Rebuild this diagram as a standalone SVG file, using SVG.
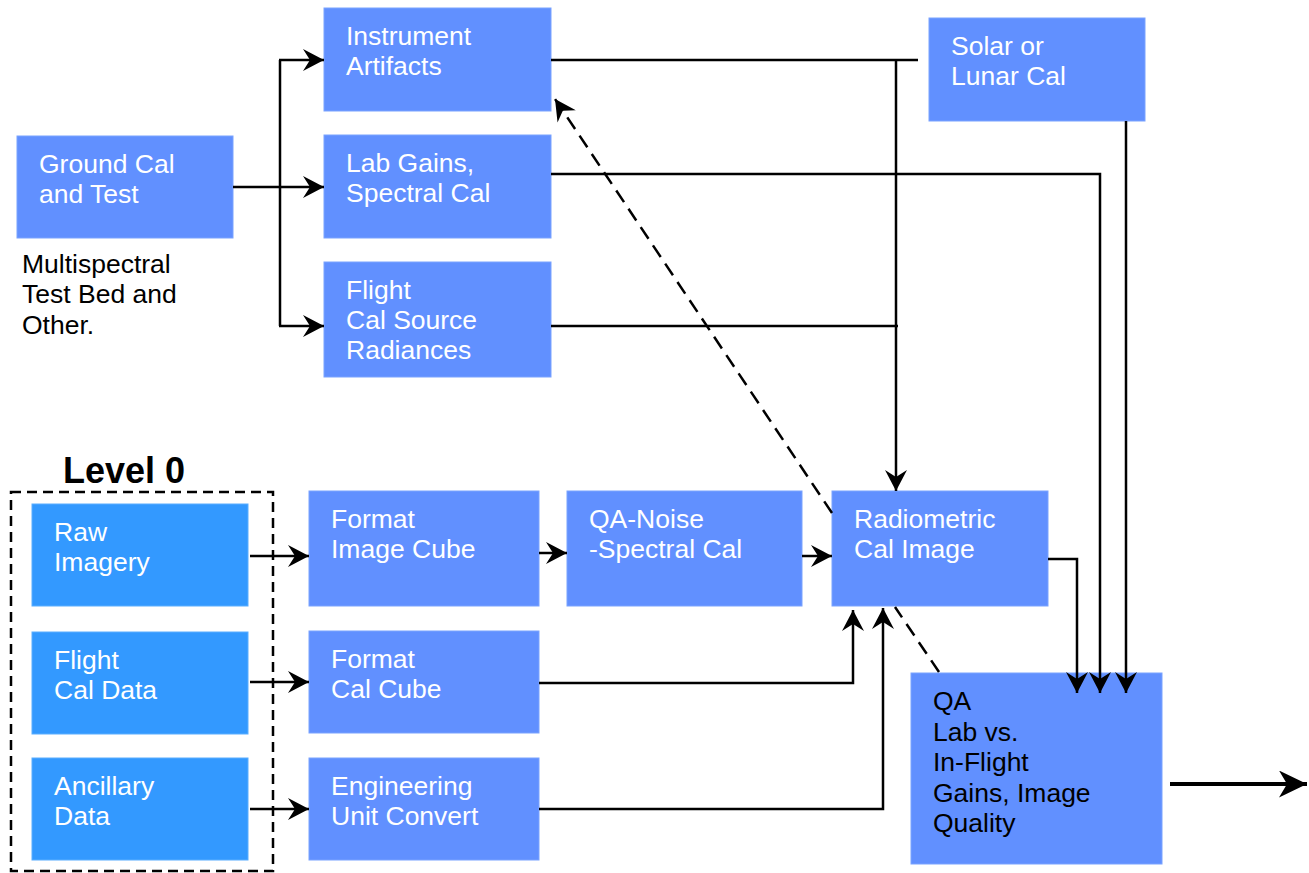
<svg xmlns="http://www.w3.org/2000/svg" width="1309" height="873" viewBox="0 0 1309 873">
<style>
.n{fill:#6190FF;stroke:#7BA3FF;stroke-width:1}
.l0{fill:#3399FF;stroke:#5AAEFF;stroke-width:1}
.t{font-family:"Liberation Sans",Arial,sans-serif;font-size:26.5px;fill:#FFFFFF}
.tb{font-family:"Liberation Sans",Arial,sans-serif;font-size:26.5px;fill:#000000}
.c{fill:none;stroke:#000;stroke-width:2.5}
</style>
<defs>
<marker id="ah" viewBox="0 0 21 22" refX="21" refY="11" markerWidth="21" markerHeight="22" markerUnits="userSpaceOnUse" orient="auto">
<path d="M0,0 L21,11 L0,22 L7,11 z" fill="#000"/>
</marker>
<marker id="ahb" viewBox="0 0 28 27" refX="28" refY="13.5" markerWidth="28" markerHeight="27" markerUnits="userSpaceOnUse" orient="auto">
<path d="M0,0 L28,13.5 L0,27 L8,13.5 z" fill="#000"/>
</marker>
</defs>
<rect width="1309" height="873" fill="#fff"/>

<g id="level0-group">
<rect x="11" y="492" width="262" height="379" fill="none" stroke="#000" stroke-width="2.5" stroke-dasharray="10,6"/>
<text x="63" y="483" font-family="Liberation Sans,Arial,sans-serif" font-size="36" font-weight="bold" fill="#000">Level 0</text>
</g>

<g id="ground-cal">
<rect class="n" x="17" y="136" width="216" height="102"/>
<text class="t" x="39" y="173">Ground Cal</text>
<text class="t" x="39" y="203">and Test</text>
</g>
<g id="multispectral-note">
<text class="tb" x="22" y="273">Multispectral</text>
<text class="tb" x="22" y="303">Test Bed and</text>
<text class="tb" x="22" y="334">Other.</text>
</g>
<g id="instrument-artifacts">
<rect class="n" x="324" y="8" width="227" height="103"/>
<text class="t" x="346" y="45">Instrument</text>
<text class="t" x="346" y="75">Artifacts</text>
</g>
<g id="lab-gains">
<rect class="n" x="324" y="135" width="227" height="103"/>
<text class="t" x="346" y="172">Lab Gains,</text>
<text class="t" x="346" y="202">Spectral Cal</text>
</g>
<g id="flight-cal-source">
<rect class="n" x="324" y="262" width="227" height="115"/>
<text class="t" x="346" y="299">Flight</text>
<text class="t" x="346" y="329">Cal Source</text>
<text class="t" x="346" y="359">Radiances</text>
</g>
<g id="solar-lunar">
<rect class="n" x="929" y="18" width="216" height="103"/>
<text class="t" x="951" y="55">Solar or</text>
<text class="t" x="951" y="85">Lunar Cal</text>
</g>
<g id="raw-imagery">
<rect class="l0" x="32" y="504" width="216" height="102"/>
<text class="t" x="54" y="541">Raw</text>
<text class="t" x="54" y="571">Imagery</text>
</g>
<g id="flight-cal-data">
<rect class="l0" x="32" y="632" width="216" height="102"/>
<text class="t" x="54" y="669">Flight</text>
<text class="t" x="54" y="699">Cal Data</text>
</g>
<g id="ancillary-data">
<rect class="l0" x="32" y="758" width="216" height="102"/>
<text class="t" x="54" y="795">Ancillary</text>
<text class="t" x="54" y="825">Data</text>
</g>
<g id="format-image-cube">
<rect class="n" x="309" y="491" width="230" height="115"/>
<text class="t" x="331" y="528">Format</text>
<text class="t" x="331" y="558">Image Cube</text>
</g>
<g id="qa-noise">
<rect class="n" x="567" y="491" width="235" height="115"/>
<text class="t" x="589" y="528">QA-Noise</text>
<text class="t" x="589" y="558">-Spectral Cal</text>
</g>
<g id="radiometric-cal">
<rect class="n" x="832" y="491" width="216" height="115"/>
<text class="t" x="854" y="528">Radiometric</text>
<text class="t" x="854" y="558">Cal Image</text>
</g>
<g id="format-cal-cube">
<rect class="n" x="309" y="631" width="230" height="102"/>
<text class="t" x="331" y="668">Format</text>
<text class="t" x="331" y="698">Cal Cube</text>
</g>
<g id="engineering-unit">
<rect class="n" x="309" y="758" width="230" height="102"/>
<text class="t" x="331" y="795">Engineering</text>
<text class="t" x="331" y="825">Unit Convert</text>
</g>
<g id="qa-lab-vs-inflight">
<rect class="n" x="911" y="673" width="251" height="191"/>
<text class="tb" x="933" y="710">QA</text>
<text class="tb" x="933" y="741">Lab vs.</text>
<text class="tb" x="933" y="771">In-Flight</text>
<text class="tb" x="933" y="802">Gains, Image</text>
<text class="tb" x="933" y="832">Quality</text>
</g>

<g id="connectors">
<path class="c" d="M233,187 H324" marker-end="url(#ah)"/>
<path class="c" d="M280,60 V326"/>
<path class="c" d="M279,60 H324" marker-end="url(#ah)"/>
<path class="c" d="M279,326 H324" marker-end="url(#ah)"/>
<path class="c" d="M551,60 H918"/>
<path class="c" d="M896,60 V491" marker-end="url(#ah)"/>
<path class="c" d="M551,174 H1100 V693" marker-end="url(#ah)"/>
<path class="c" d="M551,326 H898"/>
<path class="c" d="M1126,121 V693" marker-end="url(#ah)"/>
<path class="c" d="M1048,559 H1077 V693" marker-end="url(#ah)"/>
<path class="c" d="M250,556 H309" marker-end="url(#ah)"/>
<path class="c" d="M250,682 H309" marker-end="url(#ah)"/>
<path class="c" d="M250,809 H309" marker-end="url(#ah)"/>
<path class="c" d="M539,553 H567" marker-end="url(#ah)"/>
<path class="c" d="M802,556 H832" marker-end="url(#ah)"/>
<path class="c" d="M539,683 H853 V610" marker-end="url(#ah)"/>
<path class="c" d="M539,809 H883 V608" marker-end="url(#ah)"/>
<path class="c" d="M939,672 L895,607 M832,513 L555,99" stroke-dasharray="14,8" marker-end="url(#ah)"/>
<path fill="none" stroke="#000" stroke-width="4" d="M1170,784 H1307" marker-end="url(#ahb)"/>
</g>
</svg>
